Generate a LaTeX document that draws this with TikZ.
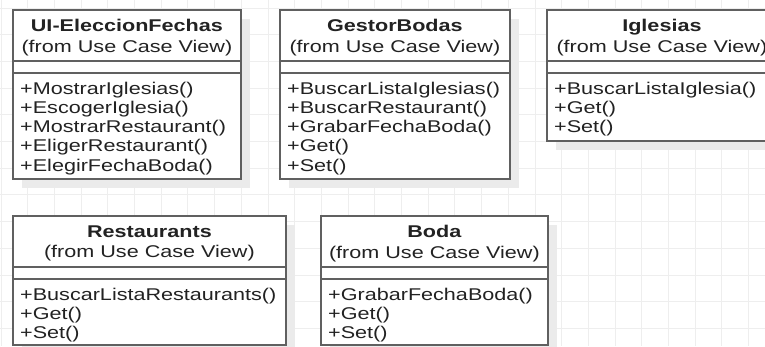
\documentclass[tikz,border=0pt]{standalone}
\usepackage{fontspec}
\setmainfont[FakeStretch=1.27]{Liberation Sans}

\definecolor{gridline}{HTML}{EEEEEE}
\definecolor{boxline}{HTML}{606060}
\definecolor{boxshadow}{HTML}{EBEBEB}
\definecolor{inktext}{HTML}{222222}

\tikzset{
  classbox/.style={draw=boxline, line width=1.8pt, fill=white, inner sep=0pt,
    anchor=north west, rectangle},
  compartment/.style={draw=boxline, line width=1.8pt},
  classtitle/.style={inner sep=0pt, align=center, text=inktext,
    font=\fontsize{17}{20.5}\selectfont},
  classops/.style={inner sep=0pt, align=left, text=inktext, anchor=north west,
    font=\fontsize{17}{19.3}\selectfont},
  dropshadow/.style={fill=boxshadow},
  gridrule/.style={draw=gridline, line width=1pt}
}

% #1 name, #2 left, #3 top, #4 width, #5 height, #6 title, #7 operations
\newcommand{\umlclass}[7]{%
  \fill[dropshadow] (#2+10,#3+10) rectangle ++(#4,#5);
  \node[classbox, minimum width=#4pt, minimum height=#5pt] (#1) at (#2,#3) {};
  \node[classtitle] (#1-title) at ([yshift=-28.5pt]#1.north) {#6};
  \draw[compartment] ([yshift=-52pt]#1.north west) -- ([yshift=-52pt]#1.north east);
  \draw[compartment] ([yshift=-64pt]#1.north west) -- ([yshift=-64pt]#1.north east);
  \node[classops] (#1-ops) at ([xshift=8pt,yshift=-72.5pt]#1.north west) {#7};
}

\begin{document}
\begin{tikzpicture}[x=1pt,y=-1pt]
  \useasboundingbox (0,0) rectangle (765,346);
  \clip (0,0) rectangle (765,346);
  \fill[white] (0,0) rectangle (765,346);

  % background grid
  \foreach \k in {0,...,28} \draw[gridrule] (1+26.7*\k,0) -- (1+26.7*\k,346);
  \foreach \k in {0,...,12} \draw[gridrule] (0,8+26.7*\k) -- (765,8+26.7*\k);

  \umlclass{ui}{12}{9}{228}{169}
    {\textbf{UI-EleccionFechas}\\(from Use Case View)}
    {+MostrarIglesias()\\+EscogerIglesia()\\+MostrarRestaurant()\\+EligerRestaurant()\\+ElegirFechaBoda()}

  \umlclass{gestor}{279}{9}{230}{169}
    {\textbf{GestorBodas}\\(from Use Case View)}
    {+BuscarListaIglesias()\\+BuscarRestaurant()\\+GrabarFechaBoda()\\+Get()\\+Set()}

  \umlclass{iglesias}{546}{9}{230}{131}
    {\textbf{Iglesias}\\(from Use Case View)}
    {+BuscarListaIglesia()\\+Get()\\+Set()}

  \umlclass{restaurants}{12}{215}{273}{129}
    {\textbf{Restaurants}\\(from Use Case View)}
    {+BuscarListaRestaurants()\\+Get()\\+Set()}

  \umlclass{boda}{320}{215}{227}{129}
    {\textbf{Boda}\\(from Use Case View)}
    {+GrabarFechaBoda()\\+Get()\\+Set()}
\end{tikzpicture}
\end{document}
